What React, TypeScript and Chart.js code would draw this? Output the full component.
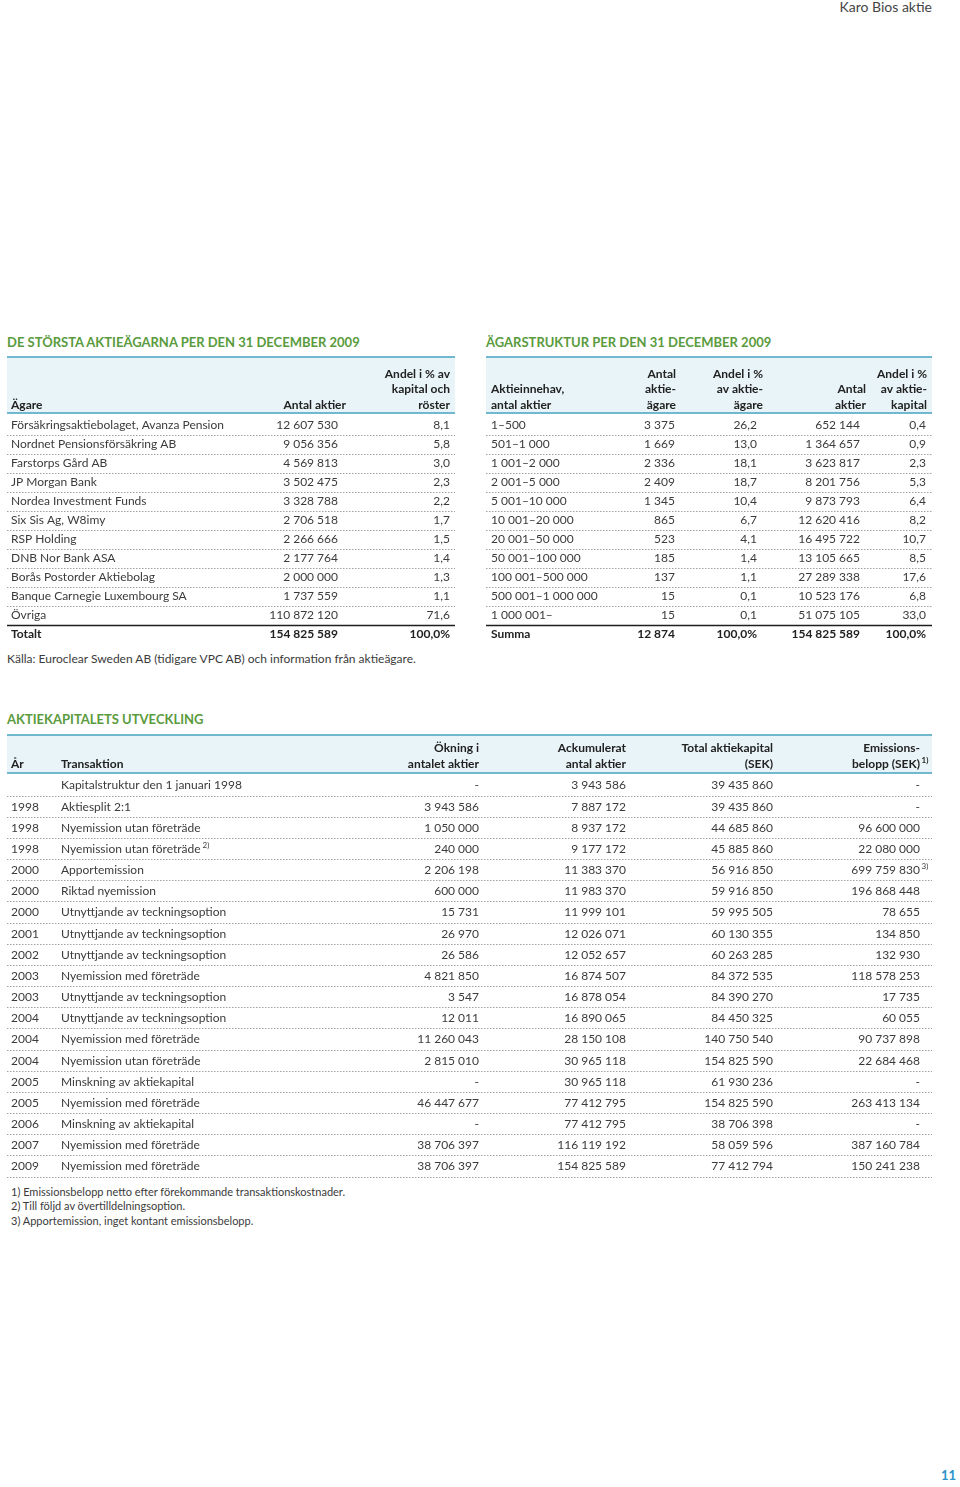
import React, { useEffect, useRef } from "react";
import { Chart, registerables } from "chart.js";

Chart.register(...registerables);

const FONT = "Lato, 'Open Sans', sans-serif";
const GREEN = "#5a9b3d";
const TEAL = "#45a3c1";
const HEAD_BG = "#e9f4f8";
const TEXT = "#3b3b3b";
const HEAD_TEXT = "#222222";
const DOT = "#a0a0a0";

// ---------- Table 1: largest shareholders ----------
const ownerNames = [
  "Försäkringsaktiebolaget, Avanza Pension",
  "Nordnet Pensionsförsäkring AB",
  "Farstorps Gård AB",
  "JP Morgan Bank",
  "Nordea Investment Funds",
  "Six Sis Ag, W8imy",
  "RSP Holding",
  "DNB Nor Bank ASA",
  "Borås Postorder Aktiebolag",
  "Banque Carnegie Luxembourg SA",
  "Övriga",
];
const ownerShares = [12607530, 9056356, 4569813, 3502475, 3328788, 2706518, 2266666, 2177764, 2000000, 1737559, 110872120];
const ownerPct = [8.1, 5.8, 3.0, 2.3, 2.2, 1.7, 1.5, 1.4, 1.3, 1.1, 71.6];
const ownerTotalLabel = "Totalt";
const ownerTotalShares = 154825589;
const ownerTotalPct = 100.0;

// ---------- Table 2: ownership structure ----------
const holdingRanges = [
  "1–500",
  "501–1 000",
  "1 001–2 000",
  "2 001–5 000",
  "5 001–10 000",
  "10 001–20 000",
  "20 001–50 000",
  "50 001–100 000",
  "100 001–500 000",
  "500 001–1 000 000",
  "1 000 001–",
];
const holdingOwners = [3375, 1669, 2336, 2409, 1345, 865, 523, 185, 137, 15, 15];
const holdingOwnersPct = [26.2, 13.0, 18.1, 18.7, 10.4, 6.7, 4.1, 1.4, 1.1, 0.1, 0.1];
const holdingShares = [652144, 1364657, 3623817, 8201756, 9873793, 12620416, 16495722, 13105665, 27289338, 10523176, 51075105];
const holdingCapitalPct = [0.4, 0.9, 2.3, 5.3, 6.4, 8.2, 10.7, 8.5, 17.6, 6.8, 33.0];
const holdingSumLabel = "Summa";
const holdingSumOwners = 12874;
const holdingSumOwnersPct = 100.0;
const holdingSumShares = 154825589;
const holdingSumCapitalPct = 100.0;

// ---------- Table 3: share capital development ----------
const capYears = ["", "1998", "1998", "1998", "2000", "2000", "2000", "2001", "2002", "2003", "2003", "2004", "2004", "2004", "2005", "2005", "2006", "2007", "2009"];
const capTransactions = [
  "Kapitalstruktur den 1 januari 1998",
  "Aktiesplit 2:1",
  "Nyemission utan företräde",
  "Nyemission utan företräde",
  "Apportemission",
  "Riktad nyemission",
  "Utnyttjande av teckningsoption",
  "Utnyttjande av teckningsoption",
  "Utnyttjande av teckningsoption",
  "Nyemission med företräde",
  "Utnyttjande av teckningsoption",
  "Utnyttjande av teckningsoption",
  "Nyemission med företräde",
  "Nyemission utan företräde",
  "Minskning av aktiekapital",
  "Nyemission med företräde",
  "Minskning av aktiekapital",
  "Nyemission med företräde",
  "Nyemission med företräde",
];
const capTransactionNotes = ["", "", "", "2)", "", "", "", "", "", "", "", "", "", "", "", "", "", "", ""];
const capIncrease: (number | null)[] = [null, 3943586, 1050000, 240000, 2206198, 600000, 15731, 26970, 26586, 4821850, 3547, 12011, 11260043, 2815010, null, 46447677, null, 38706397, 38706397];
const capAccumulated = [3943586, 7887172, 8937172, 9177172, 11383370, 11983370, 11999101, 12026071, 12052657, 16874507, 16878054, 16890065, 28150108, 30965118, 30965118, 77412795, 77412795, 116119192, 154825589];
const capTotal = [39435860, 39435860, 44685860, 45885860, 56916850, 59916850, 59995505, 60130355, 60263285, 84372535, 84390270, 84450325, 140750540, 154825590, 61930236, 154825590, 38706398, 58059596, 77412794];
const capEmission: (number | null)[] = [null, null, 96600000, 22080000, 699759830, 196868448, 78655, 134850, 132930, 118578253, 17735, 60055, 90737898, 22684468, null, 263413134, null, 387160784, 150241238];
const capEmissionNotes = ["", "", "", "", "3)", "", "", "", "", "", "", "", "", "", "", "", "", "", ""];

const footnotes = [
  "1) Emissionsbelopp netto efter förekommande transaktionskostnader.",
  "2) Till följd av övertilldelningsoption.",
  "3) Apportemission, inget kontant emissionsbelopp.",
];

// ---------- helpers ----------
const fmtInt = (n: number | null) =>
  n === null ? "-" : String(n).replace(/\B(?=(\d{3})+(?!\d))/g, " ");
const fmtDec = (n: number) => n.toFixed(1).replace(".", ",");

type Cell = { t: string; sup?: string; bold?: boolean };
type Col = { x: number; align: "left" | "right"; hx?: number };
type Spec = {
  width: number;
  height: number;
  padTop: number;
  padBottom: number;
  headTop: number;
  headBottom: number;
  headLineYs: number[];
  cols: Col[];
  header: { lines: string[]; sup?: string }[];
  rowLabels: string[];
  rows: Cell[][];
  totalRow: boolean;
  dottedAfterLast: boolean;
};

const NORMAL = `400 12px ${FONT}`;
const BOLD = `700 12px ${FONT}`;
const SUP = `400 8px ${FONT}`;
const SUPB = `700 8px ${FONT}`;

function drawText(
  ctx: CanvasRenderingContext2D,
  text: string,
  sup: string | undefined,
  x: number,
  y: number,
  align: "left" | "right",
  bold: boolean
) {
  ctx.font = bold ? BOLD : NORMAL;
  ctx.textAlign = align;
  ctx.fillText(text, x, y);
  if (sup) {
    const sx = align === "right" ? x + 1.5 : x + ctx.measureText(text).width + 2;
    ctx.font = bold ? SUPB : SUP;
    ctx.textAlign = "left";
    ctx.fillText(sup, sx, y - 4);
  }
}

function makePlugin(spec: Spec) {
  return {
    id: "tableCells",
    afterDraw(chart: any) {
      const ctx: CanvasRenderingContext2D = chart.ctx;
      const xs = chart.scales.x;
      const ys = chart.scales.y;
      const x0 = xs.getPixelForValue(0);
      const x1 = xs.getPixelForValue(spec.width);
      ctx.save();
      // header background and rules
      ctx.fillStyle = HEAD_BG;
      ctx.fillRect(x0, spec.headTop, x1 - x0, spec.headBottom - spec.headTop);
      ctx.strokeStyle = TEAL;
      ctx.lineWidth = 1.5;
      ctx.setLineDash([]);
      [spec.headTop, spec.headBottom].forEach((y) => {
        ctx.beginPath();
        ctx.moveTo(x0, y);
        ctx.lineTo(x1, y);
        ctx.stroke();
      });
      // header text
      ctx.fillStyle = HEAD_TEXT;
      ctx.textBaseline = "middle";
      spec.header.forEach((h, c) => {
        const col = spec.cols[c];
        const hx = xs.getPixelForValue(col.hx ?? col.x);
        const n = h.lines.length;
        h.lines.forEach((line, j) => {
          const y = spec.headLineYs[spec.headLineYs.length - n + j];
          drawText(ctx, line, j === n - 1 ? h.sup : undefined, hx, y, col.align, true);
        });
      });
      // rows
      const n = spec.rows.length;
      const band = ys.getPixelForValue(1) - ys.getPixelForValue(0);
      spec.rows.forEach((row, i) => {
        const yc = ys.getPixelForValue(i);
        ctx.fillStyle = row[0]?.bold ? HEAD_TEXT : TEXT;
        row.forEach((cell, c) => {
          const col = spec.cols[c];
          drawText(ctx, cell.t, cell.sup, xs.getPixelForValue(col.x), yc + 0.5, col.align, !!cell.bold);
        });
        // separator below row
        const yb = Math.round(yc + band / 2) + 0.5;
        if (spec.totalRow && i === n - 2) {
          ctx.setLineDash([]);
          ctx.strokeStyle = "#1e1e1e";
          ctx.lineWidth = 1.3;
        } else if (i === n - 1 && !spec.dottedAfterLast) {
          return;
        } else {
          ctx.setLineDash([1.5, 1.5]);
          ctx.strokeStyle = DOT;
          ctx.lineWidth = 1;
        }
        ctx.beginPath();
        ctx.moveTo(x0, yb);
        ctx.lineTo(x1, yb);
        ctx.stroke();
      });
      ctx.restore();
    },
  };
}

function TableChart({ spec, left, top }: { spec: Spec; left: number; top: number }) {
  const ref = useRef<HTMLCanvasElement>(null);
  useEffect(() => {
    const chart = new Chart(ref.current as HTMLCanvasElement, {
      type: "scatter",
      data: { labels: spec.rowLabels, datasets: [] },
      options: {
        animation: false,
        responsive: false,
        devicePixelRatio: 1,
        events: [],
        layout: { padding: { top: spec.padTop, bottom: spec.padBottom, left: 0, right: 0 } },
        scales: {
          x: { type: "linear", min: 0, max: spec.width, display: false },
          y: { type: "category", labels: spec.rowLabels, offset: true, display: false },
        },
        plugins: { legend: { display: false }, tooltip: { enabled: false }, title: { display: false } },
      } as any,
      plugins: [makePlugin(spec) as any],
    });
    return () => chart.destroy();
  }, []);
  return (
    <canvas
      ref={ref}
      width={spec.width}
      height={spec.height}
      style={{ position: "absolute", left, top, width: spec.width, height: spec.height }}
    />
  );
}

// ---------- build specs ----------
const t1Rows: Cell[][] = ownerNames.map((name, i) => [
  { t: name },
  { t: fmtInt(ownerShares[i]) },
  { t: fmtDec(ownerPct[i]) },
]);
t1Rows.push([
  { t: ownerTotalLabel, bold: true },
  { t: fmtInt(ownerTotalShares), bold: true },
  { t: fmtDec(ownerTotalPct) + "%", bold: true },
]);

const spec1: Spec = {
  width: 448,
  height: 293,
  padTop: 60.5,
  padBottom: 4.5,
  headTop: 2,
  headBottom: 58,
  headLineYs: [19, 34, 50],
  cols: [
    { x: 4, align: "left" },
    { x: 331, align: "right", hx: 339 },
    { x: 443, align: "right" },
  ],
  header: [{ lines: ["Ägare"] }, { lines: ["Antal aktier"] }, { lines: ["Andel i % av", "kapital och", "röster"] }],
  rowLabels: [...ownerNames, ownerTotalLabel],
  rows: t1Rows,
  totalRow: true,
  dottedAfterLast: false,
};

const t2Rows: Cell[][] = holdingRanges.map((r, i) => [
  { t: r },
  { t: fmtInt(holdingOwners[i]) },
  { t: fmtDec(holdingOwnersPct[i]) },
  { t: fmtInt(holdingShares[i]) },
  { t: fmtDec(holdingCapitalPct[i]) },
]);
t2Rows.push([
  { t: holdingSumLabel, bold: true },
  { t: fmtInt(holdingSumOwners), bold: true },
  { t: fmtDec(holdingSumOwnersPct) + "%", bold: true },
  { t: fmtInt(holdingSumShares), bold: true },
  { t: fmtDec(holdingSumCapitalPct) + "%", bold: true },
]);

const spec2: Spec = {
  width: 446,
  height: 293,
  padTop: 60.5,
  padBottom: 4.5,
  headTop: 2,
  headBottom: 58,
  headLineYs: [19, 34, 50],
  cols: [
    { x: 5, align: "left" },
    { x: 189, align: "right", hx: 190 },
    { x: 271, align: "right", hx: 277 },
    { x: 374, align: "right", hx: 380 },
    { x: 440, align: "right", hx: 441 },
  ],
  header: [
    { lines: ["Aktieinnehav,", "antal aktier"] },
    { lines: ["Antal", "aktie-", "ägare"] },
    { lines: ["Andel i %", "av aktie-", "ägare"] },
    { lines: ["Antal", "aktier"] },
    { lines: ["Andel i %", "av aktie-", "kapital"] },
  ],
  rowLabels: [...holdingRanges, holdingSumLabel],
  rows: t2Rows,
  totalRow: true,
  dottedAfterLast: false,
};

const t3Rows: Cell[][] = capTransactions.map((tr, i) => [
  { t: capYears[i] },
  { t: tr, sup: capTransactionNotes[i] || undefined },
  { t: fmtInt(capIncrease[i]) },
  { t: fmtInt(capAccumulated[i]) },
  { t: fmtInt(capTotal[i]) },
  { t: fmtInt(capEmission[i]), sup: capEmissionNotes[i] || undefined },
]);

const spec3: Spec = {
  width: 925,
  height: 447,
  padTop: 41.4,
  padBottom: 3.4,
  headTop: 2,
  headBottom: 40,
  headLineYs: [15, 31],
  cols: [
    { x: 4, align: "left" },
    { x: 54, align: "left" },
    { x: 472, align: "right" },
    { x: 619, align: "right" },
    { x: 766, align: "right" },
    { x: 913, align: "right" },
  ],
  header: [
    { lines: ["År"] },
    { lines: ["Transaktion"] },
    { lines: ["Ökning i", "antalet aktier"] },
    { lines: ["Ackumulerat", "antal aktier"] },
    { lines: ["Total aktiekapital", "(SEK)"] },
    { lines: ["Emissions-", "belopp (SEK)"], sup: "1)" },
  ],
  rowLabels: capTransactions.map((t, i) => `${capYears[i]} ${t}`),
  rows: t3Rows,
  totalRow: false,
  dottedAfterLast: true,
};

// ---------- HTML text ----------
function Txt({
  x,
  y,
  size,
  weight = 400,
  color = TEXT,
  right = false,
  children,
}: {
  x: number;
  y: number;
  size: number;
  weight?: number;
  color?: string;
  right?: boolean;
  children: React.ReactNode;
}) {
  const style: React.CSSProperties = {
    position: "absolute",
    top: y - 0.75 * size,
    fontSize: size,
    lineHeight: `${size * 1.4}px`,
    fontWeight: weight,
    color,
    whiteSpace: "nowrap",
    fontFamily: FONT,
  };
  if (right) style.right = 960 - x;
  else style.left = x;
  return <div style={style}>{children}</div>;
}

export default function App() {
  return (
    <div
      style={{
        position: "absolute",
        left: 0,
        top: 0,
        width: 960,
        height: 1487,
        background: "#ffffff",
        overflow: "hidden",
        fontFamily: FONT,
      }}
    >
      <Txt x={932} y={7} size={14} color="#444" right>
        Karo Bios aktie
      </Txt>

      <Txt x={7} y={343} size={13} weight={700} color={GREEN}>
        DE STÖRSTA AKTIEÄGARNA PER DEN 31 DECEMBER 2009
      </Txt>
      <Txt x={486} y={343} size={13} weight={700} color={GREEN}>
        ÄGARSTRUKTUR PER DEN 31 DECEMBER 2009
      </Txt>

      <TableChart spec={spec1} left={7} top={355} />
      <TableChart spec={spec2} left={486} top={355} />

      <Txt x={7} y={660} size={12}>
        Källa: Euroclear Sweden AB (tidigare VPC AB) och information från aktieägare.
      </Txt>

      <Txt x={7} y={720} size={13} weight={700} color={GREEN}>
        AKTIEKAPITALETS UTVECKLING
      </Txt>

      <TableChart spec={spec3} left={7} top={733} />

      {footnotes.map((f, i) => (
        <Txt key={i} x={11} y={1192 + i * 14.5} size={11}>
          {f}
        </Txt>
      ))}

      <Txt x={956} y={1476} size={13} weight={700} color="#2a93c9" right>
        11
      </Txt>
    </div>
  );
}
